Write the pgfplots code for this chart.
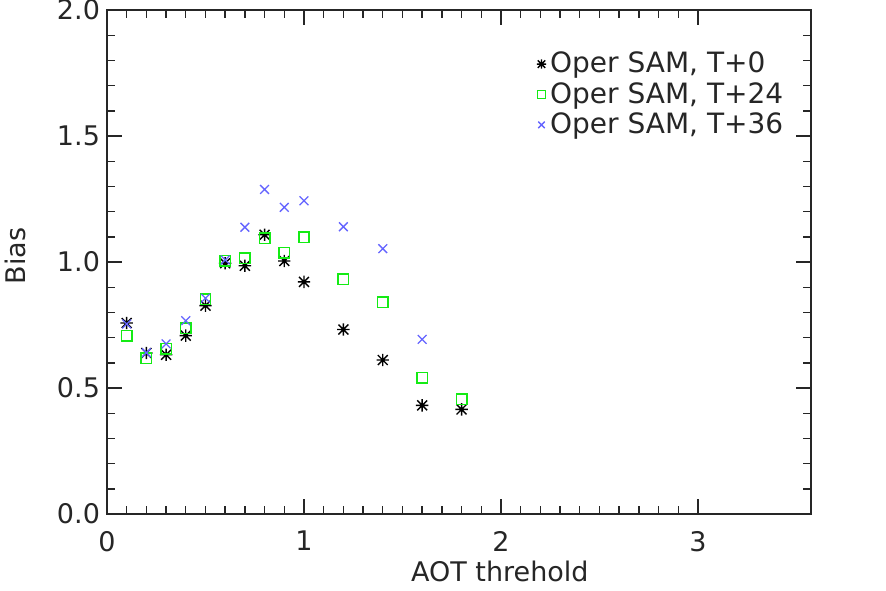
\documentclass[border=0pt]{standalone}
\usepackage{fontspec}
\setmainfont{DejaVu Sans}
\usepackage{pgfplots}
\pgfplotsset{compat=1.18}
\definecolor{samgreen}{RGB}{20,235,20}
\definecolor{samblue}{RGB}{100,100,255}

% eight-ray asterisk with a dot, like the IDL symbol
\pgfdeclareplotmark{ast8}{%
  \pgfpathmoveto{\pgfqpoint{0pt}{\pgfplotmarksize}}%
  \pgfpathlineto{\pgfqpoint{0pt}{-\pgfplotmarksize}}%
  \pgfpathmoveto{\pgfqpoint{\pgfplotmarksize}{0pt}}%
  \pgfpathlineto{\pgfqpoint{-\pgfplotmarksize}{0pt}}%
  \pgfpathmoveto{\pgfqpoint{0.8\pgfplotmarksize}{0.8\pgfplotmarksize}}%
  \pgfpathlineto{\pgfqpoint{-0.8\pgfplotmarksize}{-0.8\pgfplotmarksize}}%
  \pgfpathmoveto{\pgfqpoint{-0.8\pgfplotmarksize}{0.8\pgfplotmarksize}}%
  \pgfpathlineto{\pgfqpoint{0.8\pgfplotmarksize}{-0.8\pgfplotmarksize}}%
  \pgfusepathqstroke
  \pgfpathcircle{\pgfpointorigin}{0.3\pgfplotmarksize}%
  \pgfusepathqfill
}

\begin{document}
\begin{tikzpicture}
\path[use as bounding box] (-53.5pt,-38pt) rectangle (389.5pt,257pt);
\begin{axis}[
  scale only axis,
  width=352pt, height=252pt,
  xmin=0, xmax=3.574,
  ymin=0, ymax=2,
  xtick={0,1,2,3},
  minor x tick num=9,
  ytick={0,0.5,1,1.5,2},
  minor y tick num=4,
  tick align=inside,
  major tick length=7.5pt,
  minor tick length=3.8pt,
  axis line style={line width=0.7pt, black!85},
  every tick/.style={line width=0.7pt, black!85},
  font=\fontsize{13.5}{15}\selectfont,
  /pgf/number format/assume math mode=true,
  yticklabel style={/pgf/number format/.cd, fixed, fixed zerofill, precision=1},
  xticklabel style={yshift=-5pt},
  tick label style={text=black!85},
  xlabel={AOT threhold},
  ylabel={Bias},
  xlabel style={at={(axis description cs:0.558,0)}, anchor=base, yshift=-33.5pt, text=black!85},
  ylabel style={at={(axis description cs:-0.1307,0.512)}, anchor=center, text=black!85},
  legend style={at={(axis description cs:0.61,0.925)}, anchor=north west,
    draw=none, fill=none, inner sep=0pt, row sep=-0.7pt,
    font=\fontsize{14}{15}\selectfont, text=black!85},
  legend cell align=left,
  legend image code/.code={\draw[mark repeat=2,mark phase=2,#1,every mark/.append style={scale=0.75}]
    plot coordinates {(0pt,0pt)(4pt,0pt)(10.5pt,0pt)};},
]
\addplot[only marks, mark=ast8, mark size=3.1pt, draw=black, fill=black, line width=0.7pt] coordinates {
  (0.1,0.758) (0.2,0.639) (0.3,0.632) (0.4,0.708) (0.5,0.827) (0.6,0.995)
  (0.7,0.985) (0.8,1.108) (0.9,1.004) (1.0,0.921) (1.2,0.732) (1.4,0.611)
  (1.6,0.431) (1.8,0.415)
};
\addlegendentry{Oper SAM, T+0}
\addplot[only marks, mark=square, mark size=2.6pt, draw=samgreen, line width=0.75pt] coordinates {
  (0.1,0.708) (0.2,0.618) (0.3,0.655) (0.4,0.737) (0.5,0.852) (0.6,1.005)
  (0.7,1.015) (0.8,1.094) (0.9,1.037) (1.0,1.098) (1.2,0.931) (1.4,0.841)
  (1.6,0.541) (1.8,0.456)
};
\addlegendentry{Oper SAM, T+24}
\addplot[only marks, mark=x, mark size=3.1pt, draw=samblue, line width=0.65pt] coordinates {
  (0.1,0.754) (0.2,0.640) (0.3,0.675) (0.4,0.767) (0.5,0.856) (0.6,1.008)
  (0.7,1.138) (0.8,1.288) (0.9,1.217) (1.0,1.243) (1.2,1.140) (1.4,1.053)
  (1.6,0.693)
};
\addlegendentry{Oper SAM, T+36}
\end{axis}
\end{tikzpicture}
\end{document}
